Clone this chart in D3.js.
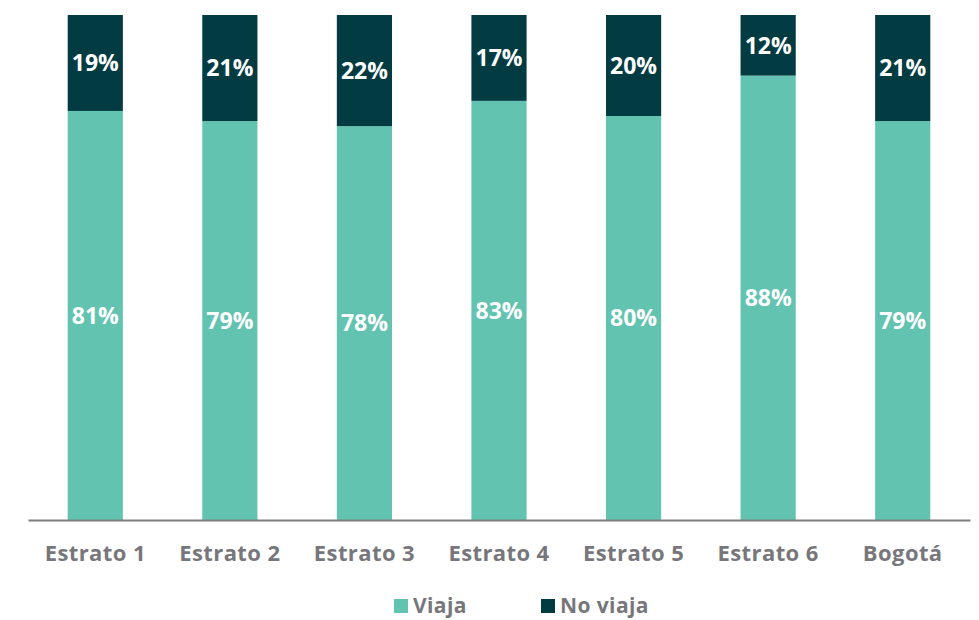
<!DOCTYPE html>
<html>
<head>
<meta charset="utf-8">
<script src="https://cdn.jsdelivr.net/npm/d3@7"></script>
<style>
  body { margin: 0; background: #fff; }
  svg { display: block; font-family: "Open Sans", sans-serif; }
</style>
</head>
<body>
<svg id="chart" width="979" height="620"></svg>
<script>
var categories = ["Estrato 1", "Estrato 2", "Estrato 3", "Estrato 4", "Estrato 5", "Estrato 6", "Bogotá"];
var viaja = [81, 79, 78, 83, 80, 88, 79];
var noViaja = [19, 21, 22, 17, 20, 12, 21];
var seriesNames = ["Viaja", "No viaja"];
var colors = ["#62c4b0", "#023b42"];

var svg = d3.select("#chart"),
    margin = {top: 15, right: 9, bottom: 100, left: 28},
    width = svg.attr("width") - margin.left - margin.right,
    height = svg.attr("height") - margin.top - margin.bottom,
    g = svg.append("g").attr("transform", "translate(" + margin.left + "," + margin.top + ")");

var x = d3.scaleBand().domain(categories).range([0, width]).paddingInner(0.59).paddingOuter(0.295);
var y = d3.scaleLinear().domain([0, 100]).range([height, 0]);

var data = categories.map(function(c, i) { return {cat: c, Viaja: viaja[i], "No viaja": noViaja[i]}; });
var stack = d3.stack().keys(seriesNames)(data);

var layer = g.selectAll(".layer")
    .data(stack)
    .enter().append("g")
    .attr("class", "layer")
    .attr("fill", function(d, i) { return colors[i]; });

layer.selectAll("rect")
    .data(function(d) { return d; })
    .enter().append("rect")
    .attr("x", function(d) { return x(d.data.cat); })
    .attr("y", function(d) { return y(d[1]); })
    .attr("width", x.bandwidth())
    .attr("height", function(d) { return y(d[0]) - y(d[1]); });

layer.selectAll("text")
    .data(function(d) { return d; })
    .enter().append("text")
    .attr("x", function(d) { return x(d.data.cat) + x.bandwidth() / 2; })
    .attr("y", function(d) { return (y(d[0]) + y(d[1])) / 2; })
    .attr("dy", "0.36em")
    .attr("text-anchor", "middle")
    .attr("fill", "#fff")
    .style("font-size", "23px")
    .style("font-weight", "bold")
    .text(function(d) { return Math.round(d[1] - d[0]) + "%"; });

// axis
var xAxis = g.append("g")
    .attr("transform", "translate(0," + height + ")")
    .call(d3.axisBottom(x).tickSize(0).tickPadding(25));
xAxis.select(".domain").attr("stroke", "#7f7f7f").attr("stroke-width", 2);
xAxis.selectAll("text")
    .attr("fill", "#77777b")
    .style("font-size", "22px")
    .style("font-weight", "bold")
    .style("letter-spacing", "0.4px")
    .style("font-family", "'Open Sans', sans-serif");

// legend
var legend = svg.append("g").attr("transform", "translate(394,606)");
var items = legend.selectAll("g")
    .data(seriesNames)
    .enter().append("g")
    .attr("transform", function(d, i) { return "translate(" + (i * 147) + ",0)"; });
items.append("rect")
    .attr("x", 0).attr("y", -7)
    .attr("width", 14).attr("height", 14)
    .attr("fill", function(d, i) { return colors[i]; });
items.append("text")
    .attr("x", 19)
    .attr("dy", "0.34em")
    .attr("fill", "#77777b")
    .style("font-size", "21px")
    .style("font-weight", "bold")
    .style("letter-spacing", "0.4px")
    .text(function(d) { return d; });
</script>
</body>
</html>
